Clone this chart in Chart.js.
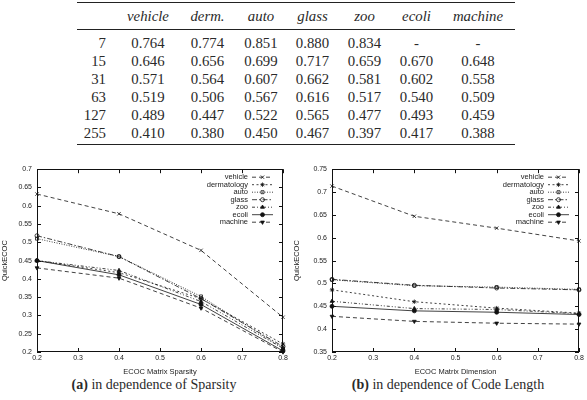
<!DOCTYPE html>
<html lang="en">
<head>
<meta charset="UTF-8">
<title>QuickECOC results</title>
<script src="https://cdn.jsdelivr.net/npm/chart.js"></script>
<style>
  body { margin: 0; width: 587px; height: 400px; position: relative; overflow: hidden; background: #fff; color: #2a2a2a; font-family: "Liberation Serif", serif; }
  .rule { position: absolute; left: 77px; width: 438px; background: #222; }
  .cell { position: absolute; transform: translate(-50%, -50%); font-size: 14.8px; white-space: nowrap; }
  .cell.hdr { font-style: italic; }
  .cell.lbl { transform: translate(-100%, -50%); }
  canvas { position: absolute; }
  .caption { position: absolute; transform: translate(-50%, -50%); font-size: 14px; white-space: nowrap; }
</style>
</head>
<body>
<div class="rule" style="top:2px;height:1.4px"></div>
<div class="rule" style="top:29px;height:0.8px"></div>
<div class="rule" style="top:144px;height:1.4px"></div>
<div id="table"></div>

<canvas id="sparsityChart" width="292" height="216" style="left:0;top:160px"></canvas>
<canvas id="lengthChart" width="295" height="216" style="left:292px;top:160px"></canvas>
<div class="caption" style="left:154px;top:385px"><b>(a)</b> in dependence of Sparsity</div>
<div class="caption" style="left:448px;top:385px"><b>(b)</b> in dependence of Code Length</div>

<script>
// table values
const tableHeader = ['vehicle', 'derm.', 'auto', 'glass', 'zoo', 'ecoli', 'machine'];
const codeLengths = ['7', '15', '31', '63', '127', '255'];
const tabVehicle = ['0.764', '0.646', '0.571', '0.519', '0.489', '0.410'];
const tabDerm    = ['0.774', '0.656', '0.564', '0.506', '0.447', '0.380'];
const tabAuto    = ['0.851', '0.699', '0.607', '0.567', '0.522', '0.450'];
const tabGlass   = ['0.880', '0.717', '0.662', '0.616', '0.565', '0.467'];
const tabZoo     = ['0.834', '0.659', '0.581', '0.517', '0.477', '0.397'];
const tabEcoli   = ['-', '0.670', '0.602', '0.540', '0.493', '0.417'];
const tabMachine = ['-', '0.648', '0.558', '0.509', '0.459', '0.388'];

// chart values
const xValues = [0.2, 0.4, 0.6, 0.8];
const seriesNames = ['vehicle', 'dermatology', 'auto', 'glass', 'zoo', 'ecoli', 'machine'];

// (a) sparsity
const sparVehicle = [0.632, 0.578, 0.478, 0.295];
const sparDerm    = [0.450, 0.417, 0.346, 0.222];
const sparAuto    = [0.510, 0.461, 0.352, 0.210];
const sparGlass   = [0.518, 0.461, 0.346, 0.215];
const sparZoo     = [0.450, 0.423, 0.338, 0.210];
const sparEcoli   = [0.450, 0.411, 0.330, 0.203];
const sparMachine = [0.430, 0.402, 0.320, 0.200];

// (b) code length
const lenVehicle = [0.713, 0.647, 0.621, 0.593];
const lenDerm    = [0.486, 0.460, 0.446, 0.435];
const lenAuto    = [0.508, 0.495, 0.492, 0.487];
const lenGlass   = [0.509, 0.496, 0.490, 0.486];
const lenZoo     = [0.461, 0.445, 0.443, 0.434];
const lenEcoli   = [0.450, 0.440, 0.437, 0.432];
const lenMachine = [0.428, 0.417, 0.413, 0.411];

// ---- table ----
const colX = [148, 207.5, 261, 312.5, 364.5, 416.5, 478];
const rowY = [43, 61, 79, 96.5, 114.5, 132.5];
const tableCols = [tabVehicle, tabDerm, tabAuto, tabGlass, tabZoo, tabEcoli, tabMachine];
const tbl = document.getElementById('table');
function addCell(text, x, y, cls) {
    const d = document.createElement('div');
    d.className = 'cell ' + cls;
    d.style.left = x + 'px';
    d.style.top = y + 'px';
    d.textContent = text;
    tbl.appendChild(d);
}
tableHeader.forEach((h, i) => addCell(h, colX[i], 16, 'hdr'));
codeLengths.forEach((c, r) => {
    addCell(c, 106, rowY[r], 'lbl');
    tableCols.forEach((col, i) => addCell(col[r], colX[i], rowY[r], ''));
});

// ---- charts ----
const styles = [
    { dash: [4, 3], point: 'crossRot', radius: 2.4, fill: '#111', rot: 0 },
    { dash: [2, 2.5], point: 'star', radius: 2.2, fill: '#111', rot: 0 },
    { dash: [1, 1.5], point: 'rect', radius: 2.1, fill: 'transparent', rot: 0 },
    { dash: [5, 2, 1.5, 2], point: 'circle', radius: 2, fill: 'transparent', rot: 0 },
    { dash: [3, 2, 1, 2, 1, 2], point: 'triangle', radius: 2.2, fill: '#111', rot: 0 },
    { dash: [], point: 'circle', radius: 2, fill: '#111', rot: 0 },
    { dash: [4, 3], point: 'triangle', radius: 2.2, fill: '#111', rot: 180 }
];

const axisFont = { family: '"Liberation Sans", Arial, sans-serif', size: 7 };
const titleFont = { family: '"Liberation Sans", Arial, sans-serif', size: 7.5 };
const fmt = v => String(+(+v).toFixed(2));

const gnuplotFrame = {
    id: 'gnuplotFrame',
    afterDatasetsDraw(chart) {
        const { ctx, chartArea: a, scales: { x, y } } = chart;
        ctx.save();
        ctx.strokeStyle = '#111';
        ctx.lineWidth = 1;
        ctx.setLineDash([]);
        ctx.strokeRect(Math.round(a.left) + 0.5, Math.round(a.top) + 0.5,
            Math.round(a.right - a.left) - 1, Math.round(a.bottom - a.top) - 1);
        ctx.beginPath();
        x.ticks.forEach(t => {
            const px = Math.round(x.getPixelForValue(t.value)) + 0.5;
            ctx.moveTo(px, a.bottom); ctx.lineTo(px, a.bottom - 4);
            ctx.moveTo(px, a.top); ctx.lineTo(px, a.top + 4);
        });
        y.ticks.forEach(t => {
            const py = Math.round(y.getPixelForValue(t.value)) + 0.5;
            ctx.moveTo(a.left, py); ctx.lineTo(a.left + 4, py);
            ctx.moveTo(a.right, py); ctx.lineTo(a.right - 4, py);
        });
        ctx.stroke();

        // key, top right inside the plot
        ctx.font = '7.5px "Liberation Sans", Arial, sans-serif';
        ctx.textAlign = 'right';
        ctx.textBaseline = 'middle';
        chart.data.datasets.forEach((ds, i) => {
            const ly = a.top + 8 + i * 7.5;
            ctx.fillStyle = '#222';
            ctx.fillText(ds.label, a.right - 35, ly);
            ctx.strokeStyle = '#111';
            ctx.lineWidth = 0.8;
            ctx.setLineDash(ds.borderDash);
            ctx.beginPath();
            ctx.moveTo(a.right - 31, ly); ctx.lineTo(a.right - 10, ly);
            ctx.stroke();
            ctx.setLineDash([]);
            ctx.fillStyle = ds.pointBackgroundColor;
            Chart.helpers.drawPoint(ctx, {
                pointStyle: ds.pointStyle, radius: ds.pointRadius,
                rotation: ds.pointRotation, borderWidth: 0.8
            }, a.right - 20.5, ly);
        });
        ctx.restore();
    }
};

function makeChart(id, series, yMin, yMax, xTitle, yWidth, padRight) {
    const datasets = series.map((vals, i) => ({
        label: seriesNames[i],
        data: xValues.map((xv, j) => ({ x: xv, y: vals[j] })),
        borderColor: '#111',
        borderWidth: 0.8,
        borderDash: styles[i].dash,
        pointStyle: styles[i].point,
        pointRadius: styles[i].radius,
        pointRotation: styles[i].rot,
        pointBorderColor: '#111',
        pointBackgroundColor: styles[i].fill,
        pointBorderWidth: 0.8,
        tension: 0,
        clip: false
    }));
    return new Chart(document.getElementById(id), {
        type: 'line',
        data: { datasets },
        options: {
            responsive: false,
            animation: false,
            devicePixelRatio: 1,
            layout: { padding: { top: 7, right: padRight, left: 0, bottom: 0 } },
            plugins: { legend: { display: false }, tooltip: { enabled: false } },
            scales: {
                x: {
                    type: 'linear', min: 0.2, max: 0.8,
                    ticks: { stepSize: 0.1, font: axisFont, color: '#222', padding: 2, callback: fmt },
                    grid: { display: false, drawTicks: false },
                    border: { display: false },
                    title: { display: true, text: xTitle, font: titleFont, color: '#222', padding: 0 },
                    afterFit: s => { s.height = 24; }
                },
                y: {
                    min: yMin, max: yMax,
                    ticks: { stepSize: 0.05, font: axisFont, color: '#222', padding: 5, callback: fmt },
                    grid: { display: false, drawTicks: false },
                    border: { display: false },
                    title: { display: true, text: 'QuickECOC', font: titleFont, color: '#222', padding: 0 },
                    afterFit: s => { s.width = yWidth; }
                }
            }
        },
        plugins: [gnuplotFrame]
    });
}

makeChart('sparsityChart',
    [sparVehicle, sparDerm, sparAuto, sparGlass, sparZoo, sparEcoli, sparMachine],
    0.2, 0.7, 'ECOC Matrix Sparsity', 37, 9);
makeChart('lengthChart',
    [lenVehicle, lenDerm, lenAuto, lenGlass, lenZoo, lenEcoli, lenMachine],
    0.35, 0.75, 'ECOC Matrix Dimension', 40, 8);
</script>
</body>
</html>
